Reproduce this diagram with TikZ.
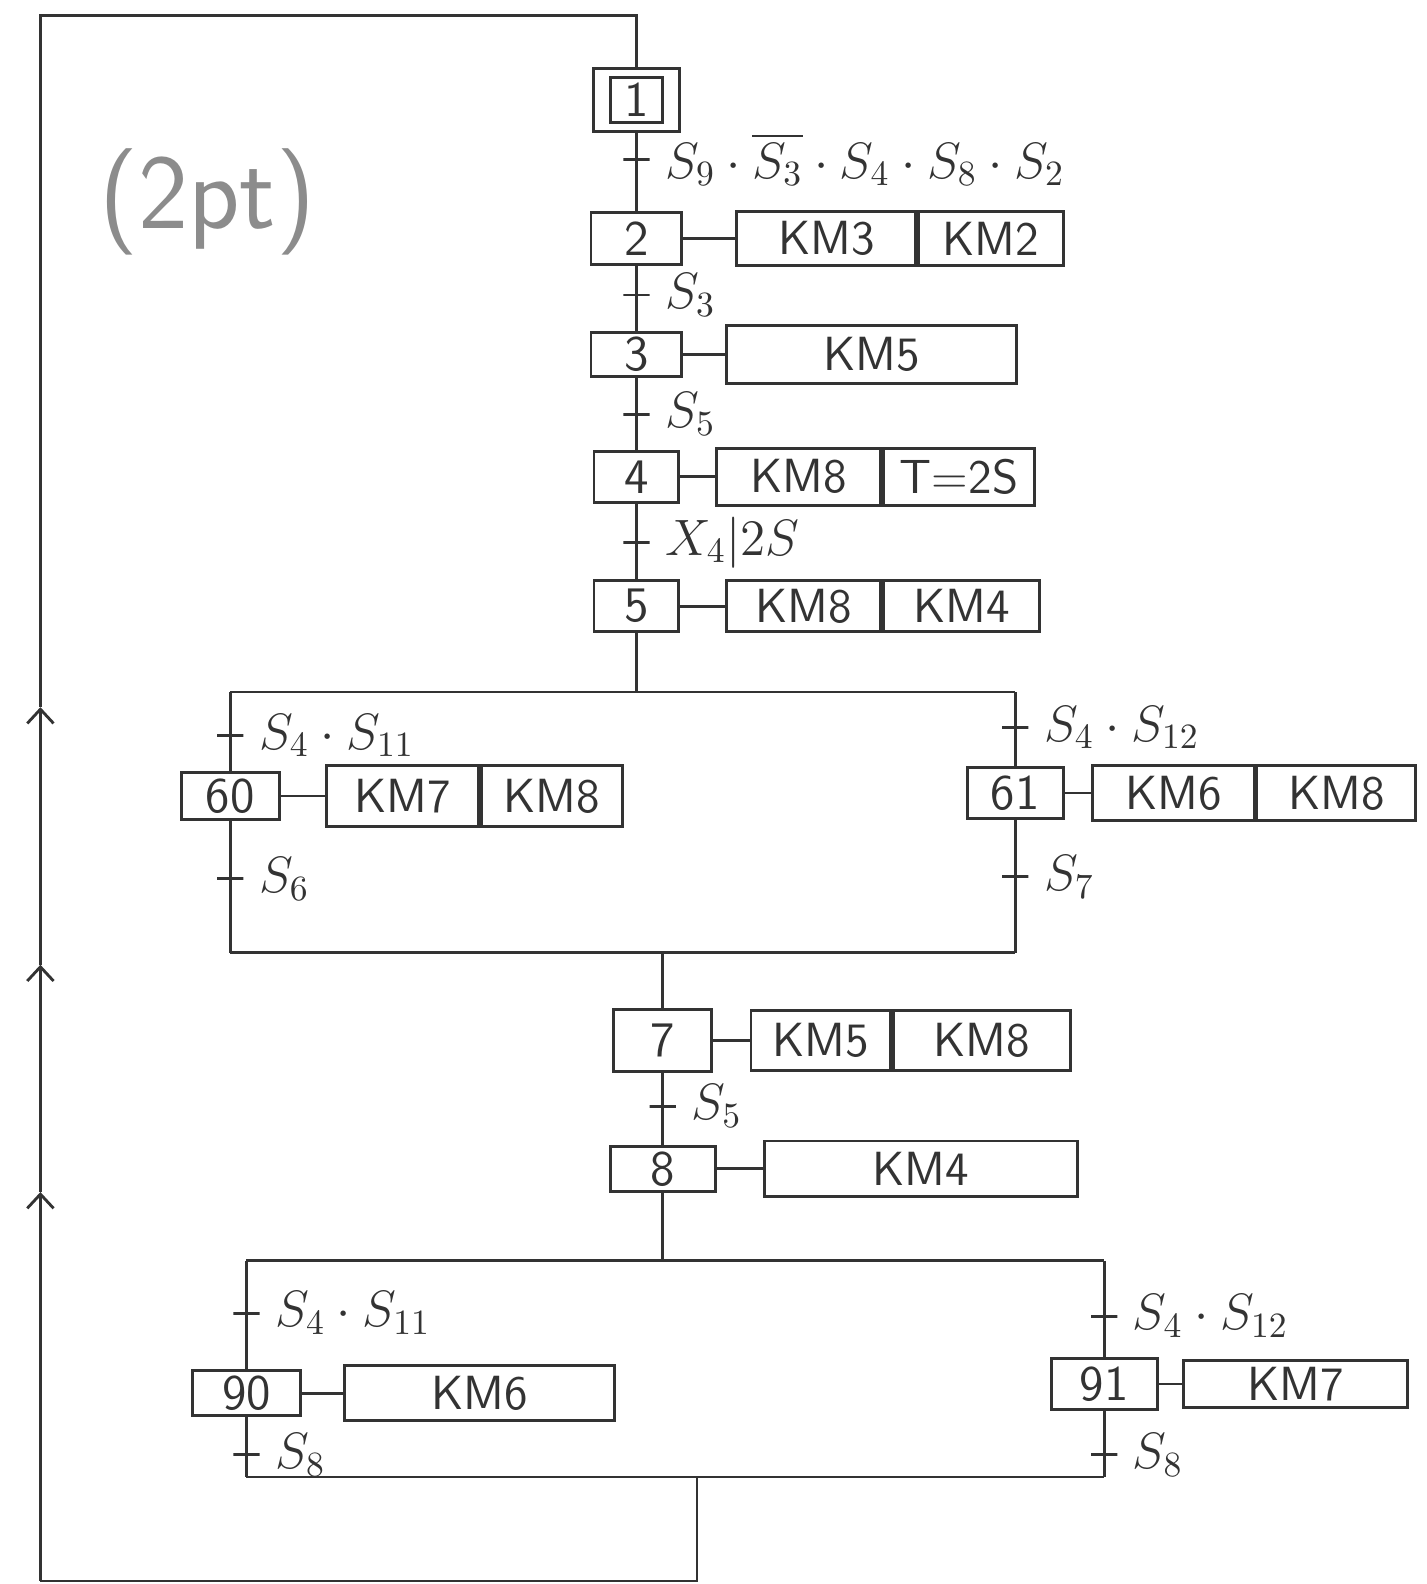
\documentclass[tikz,border=0pt]{standalone}
\usepackage{amsmath, amssymb}
\usepackage{tikz}
\usetikzlibrary{arrows.meta, positioning}

\tikzset{
  etape/.style={draw, minimum width=0.9cm, minimum height=0.5cm, inner sep=1pt, font=\fontsize{14}{16}\selectfont\sffamily},
  actbox/.style={draw, anchor=west, minimum height=0.55cm, inner sep=1pt, font=\fontsize{13.5}{16}\selectfont\sffamily},
  tick/.style={draw, minimum width=0.26cm, minimum height=0pt, inner sep=0pt, outer sep=0pt},
  recep/.style={right=3pt of #1, font=\fontsize{14}{16}\selectfont, inner sep=1pt},
}

\begin{document}
\begin{tikzpicture}[x=0.01cm, y=-0.01cm, line width=0.8pt, color=black!80, >={Straight Barb[length=0.14cm, width=0.26cm]}]
  \useasboundingbox (0,0) rectangle (1412,1568);

  \node[text=black!45, font=\fontsize{30}{34}\selectfont\sffamily] (pts) at (205,200) {(2pt)};

  % main sequence
  \node[etape, minimum width=0.85cm, minimum height=0.62cm] (s1) at (630,99) {};
  \node[etape, minimum width=0.52cm, minimum height=0.44cm] (s1i) at (s1) {1};
  \node[tick] (t1) at (630,158) {};
  \node[recep=t1] (l1) {$S_9\cdot\overline{S_3}\cdot S_4\cdot S_8\cdot S_2$};

  \node[etape, minimum height=0.52cm] (s2) at (630,236) {2};
  \node[actbox, minimum width=1.77cm, minimum height=0.54cm] (a2a) at (728,236) {KM3};
  \node[actbox, minimum width=1.43cm, minimum height=0.54cm, right=0pt of a2a] (a2b) {KM2};
  \node[tick] (t2) at (630,292) {};
  \node[recep=t2] (l2) {$S_3$};

  \node[etape, minimum height=0.44cm] (s3) at (630,351) {3};
  \node[actbox, minimum width=2.87cm, minimum height=0.58cm] (a3) at (718,351) {KM5};
  \node[tick] (t3) at (630,410) {};
  \node[recep=t3] (l3) {$S_5$};

  \node[etape, minimum width=0.84cm] (s4) at (630,472) {4};
  \node[actbox, minimum width=1.62cm, minimum height=0.56cm] (a4a) at (708,472) {KM8};
  \node[actbox, minimum width=1.50cm, minimum height=0.56cm, right=0pt of a4a] (a4b) {T=2S};
  \node[tick] (t4) at (630,537) {};
  \node[recep=t4] (l4) {$X_4|2S$};

  \node[etape, minimum width=0.84cm] (s5) at (630,600) {5};
  \node[actbox, minimum width=1.52cm, minimum height=0.5cm] (a5a) at (718,600) {KM8};
  \node[actbox, minimum width=1.55cm, minimum height=0.5cm, right=0pt of a5a] (a5b) {KM4};

  \draw (s1) -- (s2) -- (s3) -- (s4) -- (s5);
  \draw (s2) -- (a2a);
  \draw (s3) -- (a3);
  \draw (s4) -- (a4a);
  \draw (s5) -- (a5a);

  % first choice
  \coordinate (d1) at (630,685);
  \coordinate (d1l) at (228,685);
  \coordinate (d1r) at (1005,685);
  \node[tick] (t60) at (228,728) {};
  \node[recep=t60] (l60) {$S_4\cdot S_{11}$};
  \node[etape, minimum width=0.97cm, minimum height=0.47cm] (s60) at (228,788) {60};
  \node[actbox, minimum width=1.50cm, minimum height=0.6cm] (a60a) at (322,788) {KM7};
  \node[actbox, minimum width=1.40cm, minimum height=0.6cm, right=0pt of a60a] (a60b) {KM8};
  \node[tick] (t60b) at (228,870) {};
  \node[recep=t60b] (l60b) {$S_6$};

  \node[tick] (t61) at (1005,720) {};
  \node[recep=t61] (l61) {$S_4\cdot S_{12}$};
  \node[etape, minimum width=0.95cm] (s61) at (1005,785) {61};
  \node[actbox, minimum width=1.60cm] (a61a) at (1080,785) {KM6};
  \node[actbox, minimum width=1.57cm, right=0pt of a61a] (a61b) {KM8};
  \node[tick] (t61b) at (1005,868) {};
  \node[recep=t61b] (l61b) {$S_7$};

  \coordinate (c1l) at (228,943);
  \coordinate (c1r) at (1005,943);
  \coordinate (c1) at (656,943);

  \draw (s5) -- (d1);
  \draw (d1l) -- (d1r);
  \draw (d1l) -- (s60) -- (c1l);
  \draw (d1r) -- (s61) -- (c1r);
  \draw (c1l) -- (c1r);
  \draw (s60) -- (a60a);
  \draw (s61) -- (a61a);

  % steps 7 and 8
  \node[etape, minimum width=0.97cm, minimum height=0.62cm] (s7) at (656,1030) {7};
  \node[actbox, minimum width=1.38cm, minimum height=0.6cm] (a7a) at (742,1030) {KM5};
  \node[actbox, minimum width=1.75cm, minimum height=0.6cm, right=0pt of a7a] (a7b) {KM8};
  \node[tick] (t7) at (656,1095) {};
  \node[recep=t7] (l7) {$S_5$};
  \node[etape, minimum width=1.04cm, minimum height=0.45cm] (s8) at (656,1157) {8};
  \node[actbox, minimum width=3.10cm] (a8) at (755,1157) {KM4};

  \draw (c1) -- (s7) -- (s8);
  \draw (s7) -- (a7a);
  \draw (s8) -- (a8);

  % second choice
  \coordinate (d2) at (656,1248);
  \coordinate (d2l) at (244,1248);
  \coordinate (d2r) at (1093,1248);
  \node[tick] (t90) at (244,1300) {};
  \node[recep=t90] (l90) {$S_4\cdot S_{11}$};
  \node[etape, minimum width=1.07cm, minimum height=0.44cm] (s90) at (244,1379) {90};
  \node[actbox, minimum width=2.67cm] (a90) at (340,1379) {KM6};
  \node[tick] (t90b) at (244,1440) {};
  \node[recep=t90b] (l90b) {$S_8$};

  \node[tick] (t91) at (1093,1303) {};
  \node[recep=t91] (l91) {$S_4\cdot S_{12}$};
  \node[etape, minimum width=1.05cm] (s91) at (1093,1370) {91};
  \node[actbox, minimum width=2.22cm, minimum height=0.47cm] (a91) at (1170,1370) {KM7};
  \node[tick] (t91b) at (1093,1440) {};
  \node[recep=t91b] (l91b) {$S_8$};

  \coordinate (c2l) at (244,1462);
  \coordinate (c2r) at (1093,1462);
  \coordinate (c2) at (690,1462);

  \draw (s8) -- (d2);
  \draw (d2l) -- (d2r);
  \draw (d2l) -- (s90) -- (c2l);
  \draw (d2r) -- (s91) -- (c2r);
  \draw (c2l) -- (c2r);
  \draw (s90) -- (a90);
  \draw (s91) -- (a91);

  % return loop
  \coordinate (bot) at (690,1565);
  \coordinate (bl) at (40,1565);
  \coordinate (up1) at (40,1180);
  \coordinate (up2) at (40,955);
  \coordinate (up3) at (40,700);
  \coordinate (tl) at (40,15);
  \coordinate (top) at (630,15);
  \draw (c2) -- (bot) -- (bl);
  \draw[->] (bl) -- (up1);
  \draw[->] (up1) -- (up2);
  \draw[->] (up2) -- (up3);
  \draw (up3) -- (tl) -- (top) -- (s1);
\end{tikzpicture}
\end{document}
